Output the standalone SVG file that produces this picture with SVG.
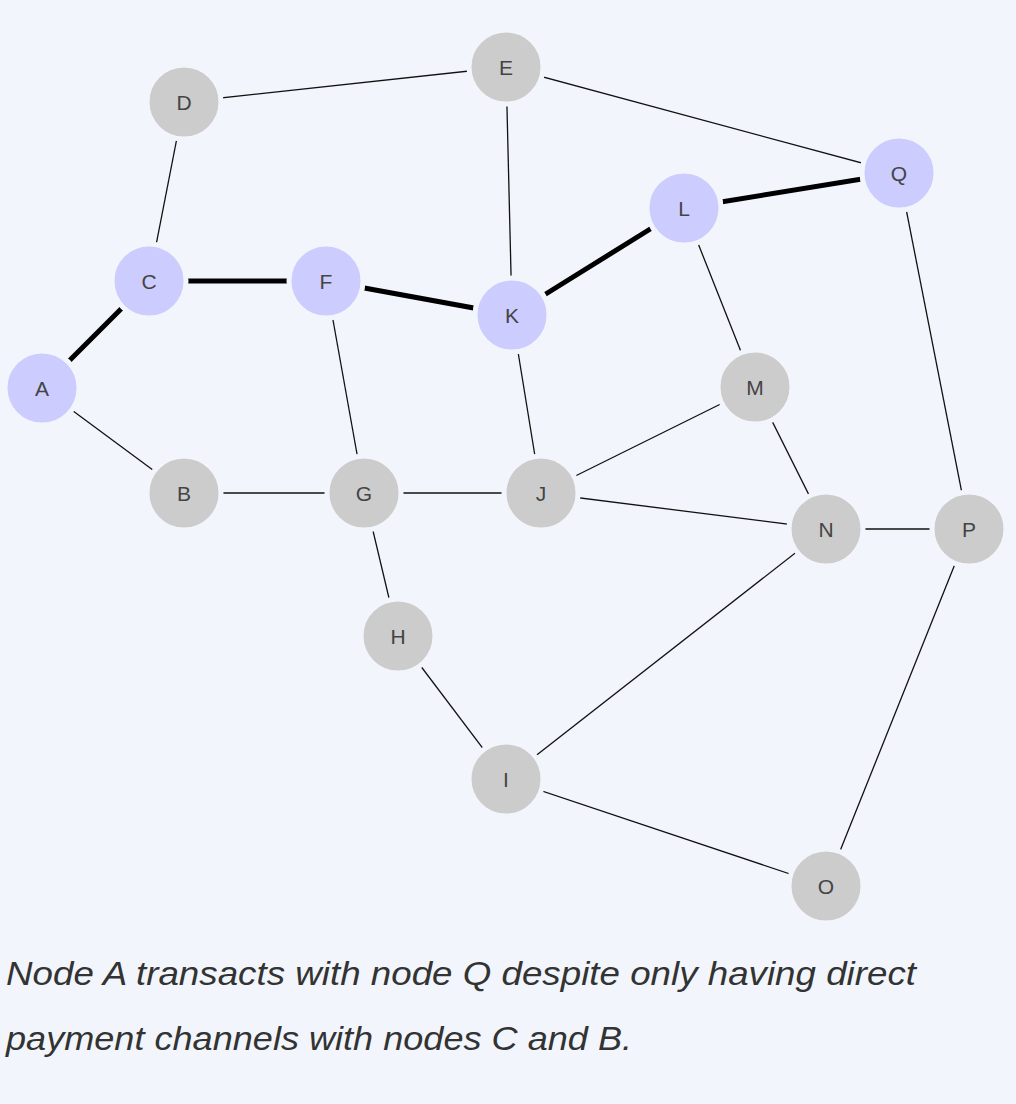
<svg xmlns="http://www.w3.org/2000/svg" width="1016" height="1104" viewBox="0 0 1016 1104">
<style>
.e{stroke:#111;stroke-width:1.3;fill:none}
.t{stroke:#000;stroke-width:5;fill:none}
.g{fill:#cccccc;stroke:#f2f6fc;stroke-width:5}
.p{fill:#ccccff;stroke:#f2f6fc;stroke-width:5}
.l{font-family:"Liberation Sans",Arial,sans-serif;font-size:21px;fill:#444;text-anchor:middle;dominant-baseline:central}
.c{font-family:"Liberation Sans",Arial,sans-serif;font-size:34px;font-style:italic;fill:#333}
</style>
<rect width="1016" height="1104" fill="#f2f6fc"/>
<g id="connectors">
<line class="e" x1="184" y1="102" x2="506" y2="67"/>
<line class="e" x1="506" y1="67" x2="899" y2="173"/>
<line class="e" x1="506" y1="67" x2="512" y2="315"/>
<line class="e" x1="184" y1="102" x2="149" y2="281"/>
<line class="e" x1="684" y1="208" x2="755" y2="387"/>
<line class="e" x1="42" y1="388" x2="184" y2="493"/>
<line class="e" x1="184" y1="493" x2="364" y2="493"/>
<line class="e" x1="326" y1="281" x2="364" y2="493"/>
<line class="e" x1="364" y1="493" x2="541" y2="493"/>
<line class="e" x1="512" y1="315" x2="541" y2="493"/>
<line class="e" x1="541" y1="493" x2="755" y2="387"/>
<line class="e" x1="541" y1="493" x2="826" y2="529"/>
<line class="e" x1="755" y1="387" x2="826" y2="529"/>
<line class="e" x1="826" y1="529" x2="969" y2="529"/>
<line class="e" x1="899" y1="173" x2="969" y2="529"/>
<line class="e" x1="364" y1="493" x2="398" y2="636"/>
<line class="e" x1="398" y1="636" x2="506" y2="779"/>
<line class="e" x1="506" y1="779" x2="826" y2="529"/>
<line class="e" x1="506" y1="779" x2="826" y2="886"/>
<line class="e" x1="826" y1="886" x2="969" y2="529"/>
<line class="t" x1="42" y1="388" x2="149" y2="281"/>
<line class="t" x1="149" y1="281" x2="326" y2="281"/>
<line class="t" x1="326" y1="281" x2="512" y2="315"/>
<line class="t" x1="512" y1="315" x2="684" y2="208"/>
<line class="t" x1="684" y1="208" x2="899" y2="173"/>
</g>
<g id="A"><circle class="p" cx="42" cy="388" r="37"/><text class="l" x="42" y="388">A</text></g>
<g id="B"><circle class="g" cx="184" cy="493" r="37"/><text class="l" x="184" y="493">B</text></g>
<g id="C"><circle class="p" cx="149" cy="281" r="37"/><text class="l" x="149" y="281">C</text></g>
<g id="D"><circle class="g" cx="184" cy="102" r="37"/><text class="l" x="184" y="102">D</text></g>
<g id="E"><circle class="g" cx="506" cy="67" r="37"/><text class="l" x="506" y="67">E</text></g>
<g id="F"><circle class="p" cx="326" cy="281" r="37"/><text class="l" x="326" y="281">F</text></g>
<g id="G"><circle class="g" cx="364" cy="493" r="37"/><text class="l" x="364" y="493">G</text></g>
<g id="H"><circle class="g" cx="398" cy="636" r="37"/><text class="l" x="398" y="636">H</text></g>
<g id="I"><circle class="g" cx="506" cy="779" r="37"/><text class="l" x="506" y="779">I</text></g>
<g id="J"><circle class="g" cx="541" cy="493" r="37"/><text class="l" x="541" y="493">J</text></g>
<g id="K"><circle class="p" cx="512" cy="315" r="37"/><text class="l" x="512" y="315">K</text></g>
<g id="L"><circle class="p" cx="684" cy="208" r="37"/><text class="l" x="684" y="208">L</text></g>
<g id="M"><circle class="g" cx="755" cy="387" r="37"/><text class="l" x="755" y="387">M</text></g>
<g id="N"><circle class="g" cx="826" cy="529" r="37"/><text class="l" x="826" y="529">N</text></g>
<g id="O"><circle class="g" cx="826" cy="886" r="37"/><text class="l" x="826" y="886">O</text></g>
<g id="P"><circle class="g" cx="969" cy="529" r="37"/><text class="l" x="969" y="529">P</text></g>
<g id="Q"><circle class="p" cx="899" cy="173" r="37"/><text class="l" x="899" y="173">Q</text></g>
<text class="c" x="6" y="985" textLength="910" lengthAdjust="spacingAndGlyphs">Node A transacts with node Q despite only having direct</text>
<text class="c" x="6" y="1050" textLength="626" lengthAdjust="spacingAndGlyphs">payment channels with nodes C and B.</text>
</svg>
